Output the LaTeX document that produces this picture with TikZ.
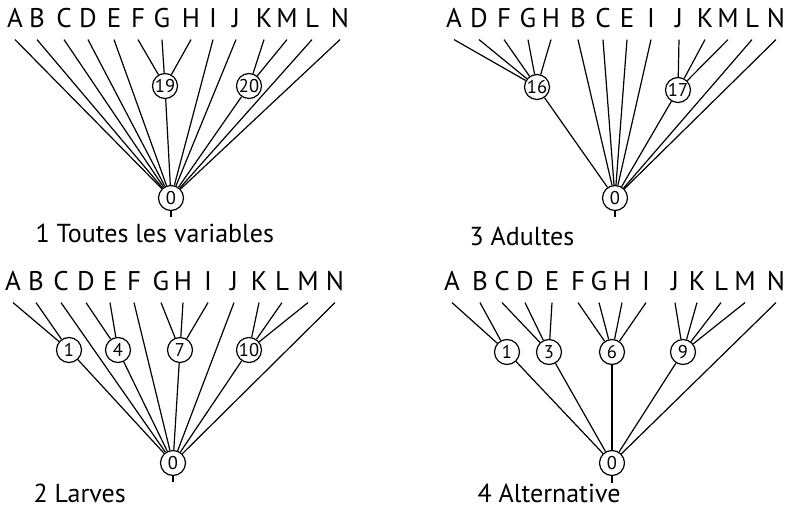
\documentclass[tikz,border=0pt]{standalone}
\usepackage{fontspec}
\setmainfont{PT Sans}
\usetikzlibrary{positioning}

\begin{document}
\begin{tikzpicture}[x=1pt, y=-1pt, line width=1.2pt,
    every node/.style={font=\fontsize{27}{27}\selectfont},
    letter/.style={anchor=base, inner xsep=0pt, inner ysep=11pt, text depth=0pt},
    group/.style={draw, circle, inner sep=0pt, minimum size=25pt,
                  font=\fontsize{18.5}{18.5}\selectfont},
    caption/.style={anchor=base west, inner sep=0pt, text depth=0pt,
                    font=\fontsize{26}{26}\selectfont}]
  \useasboundingbox (0,0) rectangle (788,510);

  % 1 Toutes les variables
  \foreach \l/\x in {A/15,B/37,C/64,D/88,E/114,F/138,G/162,H/191,I/213,J/236,K/264,M/287,L/312,N/340}
    \node[letter] (tv\l) at (\x,28) {\l};
  \node[group] (tv19) at (165,86) {19};
  \node[group] (tv20) at (249,86) {20};
  \node[group] (tv0) at (171,198) {0};
  \coordinate (tvend) at (171,217);
  \foreach \l in {F,G,H} \draw (tv\l.south) -- (tv19);
  \foreach \l in {K,M} \draw (tv\l.south) -- (tv20);
  \foreach \l in {A,B,C,D,E,I,J,L,N} \draw (tv\l.south) -- (tv0);
  \draw (tv19) -- (tv0);
  \draw (tv20) -- (tv0);
  \draw (tv0) -- (tvend);
  \node[caption] (tvcap) at (35,243) {1 Toutes les variables};

  % 3 Adultes
  \foreach \l/\x in {A/454,D/479,F/504,G/528,H/551,B/578,C/603,E/627,I/651,J/679,K/705,M/728,L/752,N/776}
    \node[letter] (ad\l) at (\x,28) {\l};
  \node[group] (ad16) at (537,87) {16};
  \node[group] (ad17) at (678,90) {17};
  \node[group] (ad0) at (615,198) {0};
  \coordinate (adend) at (615,217);
  \foreach \l in {A,D,F,G,H} \draw (ad\l.south) -- (ad16);
  \foreach \l in {J,K,M} \draw (ad\l.south) -- (ad17);
  \foreach \l in {B,C,E,I,L,N} \draw (ad\l.south) -- (ad0);
  \draw (ad16) -- (ad0);
  \draw (ad17) -- (ad0);
  \draw (ad0) -- (adend);
  \node[caption] (adcap) at (469,246) {3 Adultes};

  % 2 Larves
  \foreach \l/\x in {A/13,B/36,C/61,D/86,E/110,F/134,G/161,H/183,I/208,J/234,K/259,L/282,M/308,N/335}
    \node[letter] (la\l) at (\x,291) {\l};
  \node[group] (la1) at (69,350) {1};
  \node[group] (la4) at (118,350) {4};
  \node[group] (la7) at (180,350) {7};
  \node[group] (la10) at (249,350) {10};
  \node[group] (la0) at (173,463) {0};
  \coordinate (laend) at (173,482);
  \foreach \l in {A,B} \draw (la\l.south) -- (la1);
  \foreach \l in {D,E} \draw (la\l.south) -- (la4);
  \foreach \l in {G,H,I} \draw (la\l.south) -- (la7);
  \foreach \l in {K,L,M} \draw (la\l.south) -- (la10);
  \foreach \l in {C,F,J,N} \draw (la\l.south) -- (la0);
  \foreach \g in {1,4,7,10} \draw (la\g) -- (la0);
  \draw (la0) -- (laend);
  \node[caption] (lacap) at (33,503) {2 Larves};

  % 4 Alternative
  \foreach \l/\x in {A/452,B/480,C/502,D/525,E/552,F/578,G/599,H/622,I/646,J/675,K/697,L/721,M/745,N/776}
    \node[letter] (al\l) at (\x,291) {\l};
  \node[group] (al1) at (507,352) {1};
  \node[group] (al3) at (549,352) {3};
  \node[group] (al6) at (612,352) {6};
  \node[group] (al9) at (683,352) {9};
  \node[group] (al0) at (612,463) {0};
  \coordinate (alend) at (612,483);
  \foreach \l in {A,B} \draw (al\l.south) -- (al1);
  \foreach \l in {C,D,E} \draw (al\l.south) -- (al3);
  \foreach \l in {F,G,H,I} \draw (al\l.south) -- (al6);
  \foreach \l in {J,K,L,M} \draw (al\l.south) -- (al9);
  \draw (alN.south) -- (al0);
  \foreach \g in {1,3,6,9} \draw (al\g) -- (al0);
  \draw (al0) -- (alend);
  \node[caption] (alcap) at (477,503) {4 Alternative};
\end{tikzpicture}
\end{document}
